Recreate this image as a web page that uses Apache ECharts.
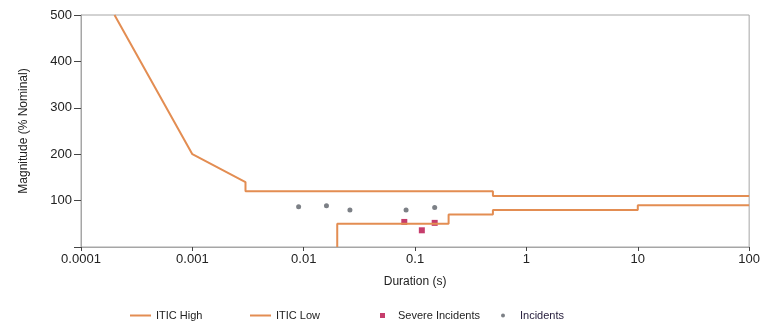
<!DOCTYPE html>
<html>
<head>
<meta charset="utf-8">
<script src="https://cdn.jsdelivr.net/npm/echarts@6/dist/echarts.min.js"></script>
<style>
html,body{margin:0;padding:0;background:#fff;}
#chart{width:763px;height:321px;}
</style>
</head>
<body>
<div id="chart"></div>
<script>
// Data
var xTickLabels = ['0.0001', '0.001', '0.01', '0.1', '1', '10', '100'];
var yTickLabels = ['', '100', '200', '300', '400', '500'];

var iticHighX = [0.0002, 0.001, 0.003, 0.003, 0.5, 0.5, 100];
var iticHighY = [500, 200, 140, 120, 120, 110, 110];

var iticLowX = [0.02, 0.02, 0.2, 0.2, 0.5, 0.5, 10, 10, 100];
var iticLowY = [0, 50, 50, 70, 70, 80, 80, 90, 90];

var severeX = [0.08, 0.115, 0.15];
var severeY = [54, 36, 52];

var incidentX = [0.009, 0.016, 0.026, 0.083, 0.15];
var incidentY = [87, 89, 80, 80, 85];

function zip(xs, ys) { return xs.map(function (x, i) { return [x, ys[i]]; }); }

var orange = '#E38D52';
var red = '#B80C47';
var gray = '#5b6068';
var axisGray = '#a6a6a6';
var font = 'Liberation Sans, Arial, sans-serif';

var chart = echarts.init(document.getElementById('chart'), null, {renderer: 'canvas'});
chart.setOption({
  animation: false,
  backgroundColor: '#fff',
  textStyle: {fontFamily: font},
  grid: {left: 81, right: 13, top: 15, bottom: 74, show: true, borderColor: axisGray, borderWidth: 1, containLabel: false},
  xAxis: {
    type: 'log', logBase: 10, min: 0.0001, max: 100,
    name: 'Duration (s)', nameLocation: 'middle', nameGap: 29,
    nameTextStyle: {color: '#222', fontSize: 12, fontFamily: font},
    axisLine: {lineStyle: {color: axisGray}},
    axisTick: {show: true, length: 4, lineStyle: {color: '#444'}},
    axisLabel: {
      color: '#222', fontSize: 13, fontFamily: font, margin: 6,
      formatter: function (v) {
        var i = Math.round(Math.log10(v)) + 4;
        return xTickLabels[i] !== undefined ? xTickLabels[i] : '';
      }
    },
    splitLine: {show: false}
  },
  yAxis: {
    type: 'value', min: 0, max: 500, interval: 100,
    name: 'Magnitude (% Nominal)', nameLocation: 'middle', nameGap: 51,
    nameTextStyle: {color: '#222', fontSize: 12, fontFamily: font},
    axisLine: {show: true, lineStyle: {color: axisGray}},
    axisTick: {show: true, length: 7, lineStyle: {color: '#444'}},
    axisLabel: {
      color: '#222', fontSize: 13, fontFamily: font, margin: 9,
      formatter: function (v) { return yTickLabels[Math.round(v / 100)]; }
    },
    splitLine: {show: false}
  },
  legend: [
    {left: 125, top: 305, itemWidth: 21, itemHeight: 2, icon: 'rect', data: ['ITIC High'],
     textStyle: {color: '#222', fontSize: 11, fontFamily: font}},
    {left: 245, top: 305, itemWidth: 21, itemHeight: 2, icon: 'rect', data: ['ITIC Low'],
     textStyle: {color: '#222', fontSize: 11, fontFamily: font}},
    {left: 375, top: 305, itemWidth: 5, itemHeight: 5, icon: 'rect', data: ['Severe Incidents'],
     textStyle: {color: '#222', fontSize: 11, fontFamily: font, padding: [0, 0, 0, 8]}},
    {left: 496, top: 305, itemWidth: 4, itemHeight: 4, icon: 'circle', data: ['Incidents'],
     textStyle: {color: '#2a2240', fontSize: 11, fontFamily: font, padding: [0, 0, 0, 10]}}
  ],
  series: [
    {name: 'ITIC High', type: 'line', data: zip(iticHighX, iticHighY), showSymbol: false, symbol: 'none',
     lineStyle: {color: orange, width: 2}, itemStyle: {color: orange}},
    {name: 'ITIC Low', type: 'line', data: zip(iticLowX, iticLowY), showSymbol: false, symbol: 'none',
     lineStyle: {color: orange, width: 2}, itemStyle: {color: orange}},
    {name: 'Severe Incidents', type: 'scatter', data: zip(severeX, severeY), symbol: 'rect', symbolSize: 6,
     itemStyle: {color: red}},
    {name: 'Incidents', type: 'scatter', data: zip(incidentX, incidentY), symbol: 'circle', symbolSize: 5,
     itemStyle: {color: gray}}
  ]
});
</script>
</body>
</html>
